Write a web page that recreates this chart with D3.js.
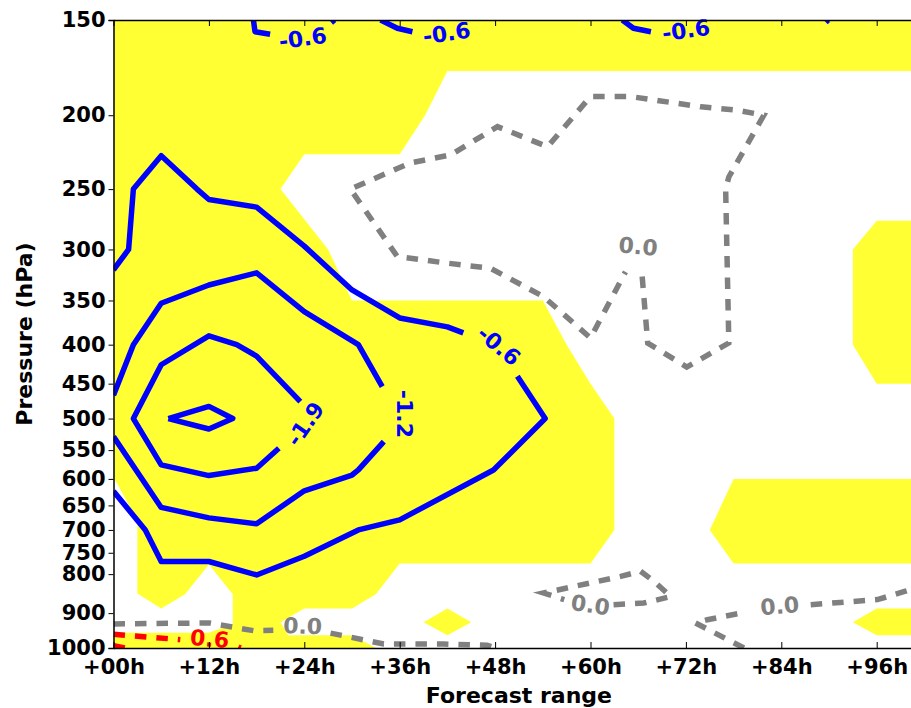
<!DOCTYPE html>
<html>
<head>
<meta charset="utf-8">
<script src="https://cdn.jsdelivr.net/npm/d3@7"></script>
<style>
  body { margin: 0; background: #fff; }
  text { font-family: 'DejaVu Sans', sans-serif; font-weight: bold; }
</style>
</head>
<body>
<div id="chart"></div>
<script>
// forecast hours and pressure levels on the axes
const hourTicks = [0, 12, 24, 36, 48, 60, 72, 84, 96];
const pressureTicks = [150, 200, 250, 300, 350, 400, 450, 500, 550, 600, 650, 700, 750, 800, 900, 1000];

// significant areas (yellow), [hour, hPa]
const mainArea = [[0, 150], [102, 150], [102, 175], [42, 175], [39.2, 200], [36, 225], [24, 225], [21, 250],
    [27, 300], [30, 350], [54, 350], [57, 400], [60, 450], [63, 500], [63, 700], [60, 775], [36, 775],
    [33, 850], [30, 887.5], [24, 887.5], [21, 925], [22, 962.5], [30, 962.5], [33, 1000], [0, 1000]];
const mainHole = [[0, 598], [0.6, 612], [3, 682], [3, 848], [6, 887.5], [9, 850], [12, 777], [15, 850],
    [15, 930], [12, 955], [0, 955]];
const smallAreas = [
    [[39, 925], [42, 887.5], [45, 925], [42, 962.5]],
    [[93, 300], [96, 275], [102, 275], [102, 450], [96, 450], [93, 400]],
    [[75, 700], [78, 600], [102, 600], [102, 775], [78, 775]],
    [[93, 925], [96, 887.5], [102, 887.5], [102, 962.5], [96, 962.5]]
];

// negative contours (blue), pieces split where labels sit
const negLines = [
    [[0, 319], [1.9, 300], [2.5, 250], [6, 226], [10.5, 250], [12, 258], [18, 264], [24, 297], [30, 339],
        [36, 369], [42, 379], [44, 386]],
    [[50.8, 440], [54.3, 500], [47.8, 584], [36, 679], [30.8, 700], [24, 758], [18, 802], [12, 770],
        [6, 770], [4, 700], [0, 623]],
    [[0, 466], [2.5, 400], [6, 353], [12, 334], [18, 322], [24, 362], [30.8, 400], [33.8, 454]],
    [[34, 536], [30.8, 584], [30, 593], [24, 622], [18, 687], [12, 675], [6, 654], [0, 528]],
    [[20.8, 547], [18, 581], [12, 594], [6, 575], [2.5, 500], [6, 425], [12, 389.5], [15.5, 400],
        [18, 414], [23.5, 475]],
    [[6.9, 500], [12, 482], [15, 500], [12, 516], [6.9, 500]],
    [[17.6, 150], [17.8, 155.4], [19.7, 156.6]],
    [[27.4, 151.2], [27.8, 150]],
    [[33.6, 150], [35.7, 153.8], [37.6, 155.4]],
    [[64, 150], [65.4, 153.8], [67.6, 155.4]],
    [[89.6, 151], [89.9, 150]]
];

// zero contours (grey dashed)
const zeroLines = [
    [[66.5, 325.6], [67.2, 398], [72.1, 428], [77.4, 398], [77, 250], [77.4, 241], [81.8, 200], [78.5, 197],
        [73.9, 195], [65, 189], [60, 189], [54.6, 220], [48.3, 207], [42.4, 225.5], [37.3, 231], [29.8, 250],
        [35.7, 306.5], [42, 312.7], [47.4, 317.5], [54.1, 346], [60, 392], [64.4, 321]],
    [[62.9, 877.5], [66.7, 873], [70.1, 856], [68, 818], [66.3, 793], [63.8, 805.5], [54.1, 847], [56.7, 864]],
    [[79.3, 1000], [73.2, 927], [74.7, 918], [78.9, 900]],
    [[87.7, 877.5], [96.1, 864], [99.5, 843], [102, 828]],
    [[0, 930], [12, 927], [17.6, 949], [20.1, 948]],
    [[27.3, 956], [34, 988], [41.5, 988], [47, 992], [48, 1000]]
];

// positive contours (red dashed)
const posLines = [
    [[0, 959.5], [8.4, 975]],
    [[15.7, 997], [16, 1000]],
    [[0, 993], [1.5, 1000]]
];

// inline contour labels: level, [hour, hPa], rotation
const contourLabels = [
    { level: -0.6, at: [23.8, 158.4], angle: -8 },
    { level: -0.6, at: [41.9, 156], angle: -8 },
    { level: -0.6, at: [72, 154.6], angle: -8 },
    { level: -0.6, at: [48.5, 401], angle: 40 },
    { level: -1.2, at: [36.7, 493], angle: 90 },
    { level: -1.9, at: [24.1, 508], angle: -55 },
    { level: 0.0, at: [66, 297], angle: 5 },
    { level: 0.0, at: [60, 877.5], angle: 8 },
    { level: 0.0, at: [83.8, 880], angle: -5 },
    { level: 0.0, at: [23.8, 935], angle: 2 },
    { level: 0.6, at: [12.1, 972], angle: 5 }
];

const width = 911;
const height = 708;
const plotLeft = 113.5, plotTop = 20, plotBottom = 648;

const svg = d3.select('#chart').append('svg')
    .attr('width', width)
    .attr('height', height);

const x = d3.scaleLinear().domain([0, 102]).range([plotLeft, plotLeft + 102 * 7.95]);
const y = d3.scaleLog().domain([150, 1000]).range([plotTop, plotBottom]);

svg.append('clipPath').attr('id', 'plot')
    .append('rect')
    .attr('x', plotLeft).attr('y', plotTop)
    .attr('width', x(102) - plotLeft).attr('height', plotBottom - plotTop);

const plot = svg.append('g').attr('clip-path', 'url(#plot)');

const line = d3.line().x((d) => x(d[0])).y((d) => y(d[1]));
const ring = (pts) => line(pts) + 'Z';

// yellow shading
plot.append('path')
    .attr('d', ring(mainArea) + ring(mainHole))
    .attr('fill', '#ffff33')
    .attr('fill-rule', 'evenodd');

plot.selectAll('.area')
    .data(smallAreas)
    .enter()
    .append('path')
    .attr('class', 'area')
    .attr('d', ring)
    .attr('fill', '#ffff33');

// contour lines
plot.selectAll('.neg')
    .data(negLines)
    .enter()
    .append('path')
    .attr('class', 'neg')
    .attr('d', line)
    .attr('fill', 'none')
    .attr('stroke', '#0000ff')
    .attr('stroke-width', 5.5)
    .attr('stroke-linejoin', 'round');

plot.selectAll('.zero')
    .data(zeroLines)
    .enter()
    .append('path')
    .attr('class', 'zero')
    .attr('d', line)
    .attr('fill', 'none')
    .attr('stroke', '#808080')
    .attr('stroke-width', 5.5)
    .attr('stroke-dasharray', '11.5,10');

plot.selectAll('.pos')
    .data(posLines)
    .enter()
    .append('path')
    .attr('class', 'pos')
    .attr('d', line)
    .attr('fill', 'none')
    .attr('stroke', '#ff0000')
    .attr('stroke-width', 5.5)
    .attr('stroke-dasharray', '11.5,10');

const levelColor = (v) => (v < 0 ? '#0000ff' : v > 0 ? '#ff0000' : '#808080');

// plain hyphen for the minus, as in the original labels
svg.selectAll('.clabel')
    .data(contourLabels)
    .enter()
    .append('text')
    .attr('class', 'clabel')
    .attr('transform', (d) => `translate(${x(d.at[0])},${y(d.at[1])}) rotate(${d.angle})`)
    .attr('text-anchor', 'middle')
    .attr('dy', '0.36em')
    .attr('fill', (d) => levelColor(d.level))
    .style('font-size', '22px')
    .text((d) => d.level.toFixed(1));

// axes
const styleAxis = (g) => {
    g.select('.domain').attr('stroke', '#000').attr('stroke-width', 1.5);
    g.selectAll('.tick line').attr('stroke', '#000').attr('stroke-width', 1);
    g.selectAll('.tick text')
        .attr('fill', '#000')
        .style('font-size', '21px')
        .style('font-family', "'DejaVu Sans', sans-serif")
        .style('font-weight', 'bold');
};

svg.append('g')
    .attr('transform', `translate(0,${plotBottom})`)
    .call(d3.axisBottom(x).tickValues(hourTicks)
        .tickFormat((d) => '+' + String(d).padStart(2, '0') + 'h')
        .tickSizeInner(-6).tickSizeOuter(0).tickPadding(11))
    .call(styleAxis);

svg.append('g')
    .attr('transform', `translate(0,${plotTop})`)
    .call(d3.axisTop(x).tickValues(hourTicks).tickFormat('')
        .tickSizeInner(-6).tickSizeOuter(0))
    .call(styleAxis);

svg.append('g')
    .attr('transform', `translate(${plotLeft},0)`)
    .call(d3.axisLeft(y).tickValues(pressureTicks).tickFormat(d3.format('d'))
        .tickSize(5).tickPadding(3))
    .call(styleAxis);

svg.append('text')
    .attr('x', x(51))
    .attr('y', 703)
    .attr('text-anchor', 'middle')
    .style('font-size', '22px')
    .text('Forecast range');

svg.append('text')
    .attr('transform', `translate(32,${(plotTop + plotBottom) / 2}) rotate(-90)`)
    .attr('text-anchor', 'middle')
    .style('font-size', '22px')
    .text('Pressure (hPa)');
</script>
</body>
</html>
